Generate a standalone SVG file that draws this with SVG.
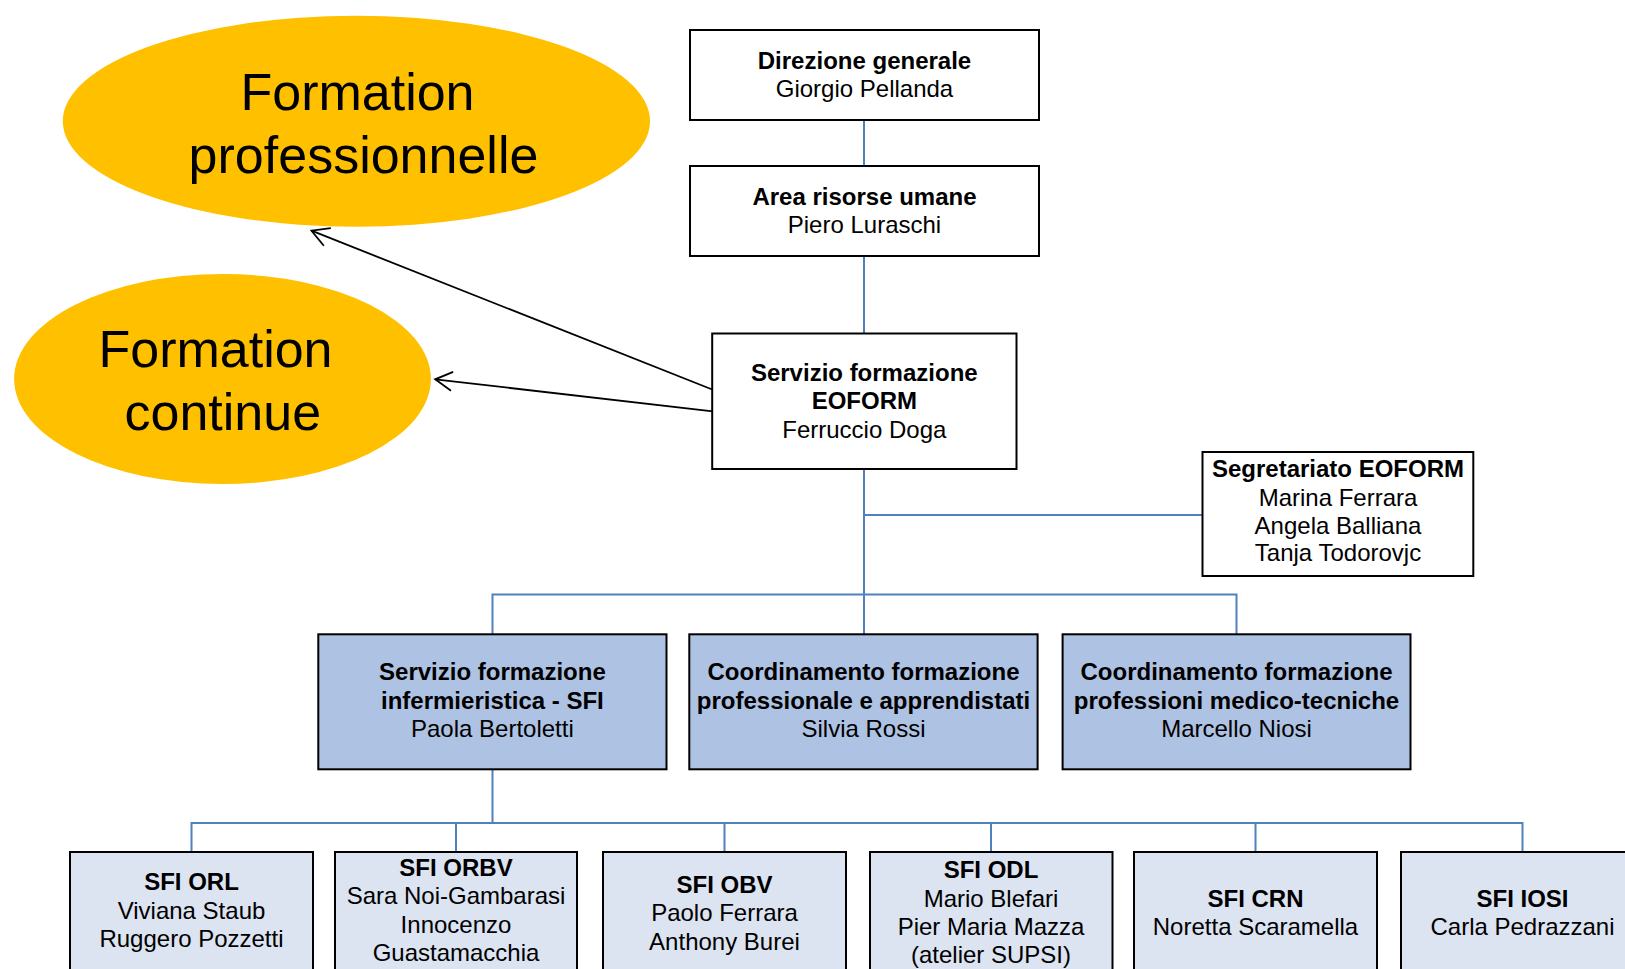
<svg xmlns="http://www.w3.org/2000/svg" width="1625" height="969" viewBox="0 0 1625 969">
<style>
  text { font-family: "Liberation Sans", Arial, sans-serif; fill: #000; text-anchor: middle; }
  .t { font-size: 24px; font-weight: bold; }
  .n { font-size: 24px; }
  .big { font-size: 52px; }
  .box { fill: #ffffff; stroke: #000; stroke-width: 2; }
  .mid { fill: #AEC2E3; stroke: #000; stroke-width: 2; }
  .low { fill: #DCE3F1; stroke: #000; stroke-width: 2; }
  .ell { fill: #FFC000; stroke: none; }
  .conn { fill: none; stroke: #4F81BD; stroke-width: 2; }
  .arr { fill: none; stroke: #000; stroke-width: 1.8; marker-end: url(#open); }
</style>
<defs>
  <marker id="open" markerUnits="userSpaceOnUse" viewBox="-20 -11 22 22" refX="0" refY="0" markerWidth="22" markerHeight="22" orient="auto">
    <path d="M-17,-9.5 L0,0 L-17,9.5" fill="none" stroke="#000" stroke-width="1.8"/>
  </marker>
</defs>
<rect width="1625" height="969" fill="#ffffff"/>

<g id="connectors">
  <path class="conn" d="M864,120 V166"/>
  <path class="conn" d="M864,256 V333.5"/>
  <path class="conn" d="M864,469 V634"/>
  <path class="conn" d="M864,515 H1202.5"/>
  <path class="conn" d="M492.5,634 V594.5 H1236.5 V634"/>
  <path class="conn" d="M492.5,769 V823"/>
  <path class="conn" d="M191.5,852 V823 H1522.5 V852"/>
  <path class="conn" d="M456,823 V852"/>
  <path class="conn" d="M724.5,823 V852"/>
  <path class="conn" d="M991,823 V852"/>
  <path class="conn" d="M1255.5,823 V852"/>
  <path class="arr" d="M713.5,390 L311.5,230.7"/>
  <path class="arr" d="M715,411.7 L435.2,379.3"/>
</g>

<g id="formation-professionnelle">
  <ellipse class="ell" cx="356.4" cy="121.2" rx="293.6" ry="105.5"/>
  <text class="big" x="357.5" y="109.5">Formation</text>
  <text class="big" x="363.5" y="172.5">professionnelle</text>
</g>

<g id="formation-continue">
  <ellipse class="ell" cx="222.5" cy="379" rx="208.4" ry="105"/>
  <text class="big" x="215.5" y="366.7">Formation</text>
  <text class="big" x="222.8" y="430">continue</text>
</g>

<g id="direzione">
  <rect class="box" x="690" y="30" width="349" height="90"/>
  <text class="t" x="864.5" y="68.5">Direzione generale</text>
  <text class="n" x="864.5" y="97">Giorgio Pellanda</text>
</g>

<g id="area-risorse">
  <rect class="box" x="690" y="166" width="349" height="90"/>
  <text class="t" x="864.5" y="204.5">Area risorse umane</text>
  <text class="n" x="864.5" y="233">Piero Luraschi</text>
</g>

<g id="servizio-eoform">
  <rect class="box" x="712.2" y="333.5" width="304.3" height="135.5"/>
  <text class="t" x="864.3" y="380.5">Servizio formazione</text>
  <text class="t" x="864.3" y="409">EOFORM</text>
  <text class="n" x="864.3" y="437.5">Ferruccio Doga</text>
</g>

<g id="segretariato">
  <rect class="box" x="1202.5" y="452" width="270.8" height="124"/>
  <text class="t" x="1338" y="477">Segretariato EOFORM</text>
  <text class="n" x="1338" y="505.5">Marina Ferrara</text>
  <text class="n" x="1338" y="533.5">Angela Balliana</text>
  <text class="n" x="1338" y="561">Tanja Todorovjc</text>
</g>

<g id="sfi">
  <rect class="mid" x="318.3" y="634.3" width="348.2" height="135"/>
  <text class="t" x="492.4" y="680">Servizio formazione</text>
  <text class="t" x="492.4" y="708.5">infermieristica - SFI</text>
  <text class="n" x="492.4" y="737">Paola Bertoletti</text>
</g>

<g id="coord-prof">
  <rect class="mid" x="689.3" y="634.3" width="348.3" height="135"/>
  <text class="t" x="863.5" y="680">Coordinamento formazione</text>
  <text class="t" x="863.5" y="708.5">professionale e apprendistati</text>
  <text class="n" x="863.5" y="737">Silvia Rossi</text>
</g>

<g id="coord-med">
  <rect class="mid" x="1062.6" y="634.3" width="347.9" height="135"/>
  <text class="t" x="1236.5" y="680">Coordinamento formazione</text>
  <text class="t" x="1236.5" y="708.5">professioni medico-tecniche</text>
  <text class="n" x="1236.5" y="737">Marcello Niosi</text>
</g>

<g id="sfi-orl">
  <rect class="low" x="70" y="852" width="243" height="130"/>
  <text class="t" x="191.5" y="890">SFI ORL</text>
  <text class="n" x="191.5" y="918.5">Viviana Staub</text>
  <text class="n" x="191.5" y="947">Ruggero Pozzetti</text>
</g>

<g id="sfi-orbv">
  <rect class="low" x="335" y="852" width="242" height="130"/>
  <text class="t" x="456" y="875.5">SFI ORBV</text>
  <text class="n" x="456" y="904">Sara Noi-Gambarasi</text>
  <text class="n" x="456" y="932.5">Innocenzo</text>
  <text class="n" x="456" y="961">Guastamacchia</text>
</g>

<g id="sfi-obv">
  <rect class="low" x="603" y="852" width="243" height="130"/>
  <text class="t" x="724.5" y="892.5">SFI OBV</text>
  <text class="n" x="724.5" y="920.5">Paolo Ferrara</text>
  <text class="n" x="724.5" y="949.5">Anthony Burei</text>
</g>

<g id="sfi-odl">
  <rect class="low" x="870" y="852" width="242.5" height="130"/>
  <text class="t" x="991" y="877.5">SFI ODL</text>
  <text class="n" x="991" y="906.5">Mario Blefari</text>
  <text class="n" x="991" y="934.5">Pier Maria Mazza</text>
  <text class="n" x="991" y="963">(atelier SUPSI)</text>
</g>

<g id="sfi-crn">
  <rect class="low" x="1134" y="852" width="243" height="130"/>
  <text class="t" x="1255.5" y="906.5">SFI CRN</text>
  <text class="n" x="1255.5" y="934.5">Noretta Scaramella</text>
</g>

<g id="sfi-iosi">
  <rect class="low" x="1401" y="852" width="243" height="130"/>
  <text class="t" x="1522.5" y="906.5">SFI IOSI</text>
  <text class="n" x="1522.5" y="934.5">Carla Pedrazzani</text>
</g>
</svg>
